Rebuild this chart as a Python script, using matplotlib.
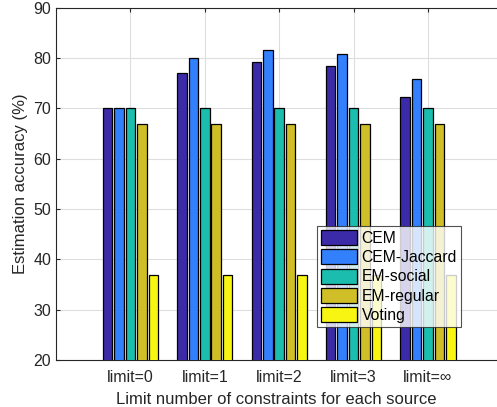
import numpy as np
import matplotlib
matplotlib.use('Agg')
import matplotlib.pyplot as plt

plt.rcParams['font.family'] = ['Liberation Sans', 'DejaVu Sans']

# data
groups = ['limit=0', 'limit=1', 'limit=2', 'limit=3', 'limit=\u221e']
series = ['CEM', 'CEM-Jaccard', 'EM-social', 'EM-regular', 'Voting']
cem = [70.0, 76.9, 79.2, 78.4, 72.3]
cem_jaccard = [70.0, 80.0, 81.5, 80.7, 75.9]
em_social = [70.0, 70.0, 70.0, 70.0, 70.0]
em_regular = [66.8, 66.8, 66.8, 66.8, 66.8]
voting = [36.9, 36.9, 36.9, 36.9, 36.9]
colors = ['#3c2ba8', '#3380fc', '#1bbdae', '#d0be28', '#f8f512']

fig = plt.figure(figsize=(4.97, 4.07), dpi=100)
ax = fig.add_axes([56/497, 1-360/407, 1-56/497, (360-7.5)/407])

x = np.arange(1, len(groups)+1)
step = 0.154
width = 0.128
allvals = [cem, cem_jaccard, em_social, em_regular, voting]
for i in range(len(series)):
    ax.bar(x + (i-2)*step, allvals[i], width, bottom=0, color=colors[i],
           edgecolor='black', linewidth=0.9, label=series[i], zorder=3)

ax.set_ylim(20, 90)
ax.set_xlim(0, (497-56)/74.4)
ax.set_xticks(x)
ax.set_xticklabels(groups)
ax.set_yticks(np.arange(20, 91, 10))
ax.grid(True, color='#dedede', linewidth=0.8, zorder=0)
ax.tick_params(direction='in', length=3, labelsize=11.5, colors='#262626',
               top=True, right=False)
ax.tick_params(axis='x', pad=7)
for s in ['left', 'bottom', 'top']:
    ax.spines[s].set_color('#262626')
    ax.spines[s].set_linewidth(0.8)
ax.spines['right'].set_visible(False)

ax.set_xlabel('Limit number of constraints for each source', fontsize=12, color='#262626', labelpad=5)
ax.set_ylabel('Estimation accuracy (%)', fontsize=12, color='#262626', labelpad=4)

leg = ax.legend(loc='upper left', bbox_to_anchor=((317-56)/441, 1-(226-7.5)/352.5),
                fontsize=11.3, frameon=True, fancybox=False, edgecolor='#262626',
                handlelength=2.3, handleheight=1.1, labelspacing=0.22,
                borderpad=0.25, handletextpad=0.3, borderaxespad=0)
leg.get_frame().set_linewidth(0.8)
leg.set_zorder(5)

plt.savefig('out.png', dpi=100)
